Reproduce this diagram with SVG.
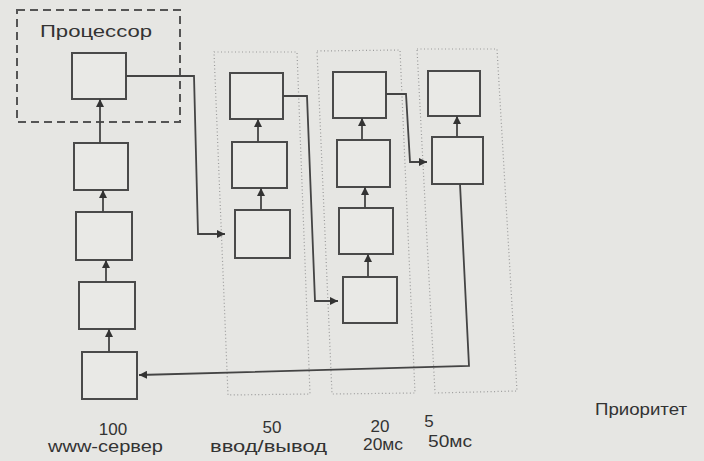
<svg xmlns="http://www.w3.org/2000/svg" width="704" height="461" viewBox="0 0 704 461">
<defs>
<marker id="ah" viewBox="0 0 10 10" refX="10" refY="5" markerWidth="8" markerHeight="8" markerUnits="userSpaceOnUse" orient="auto">
<path d="M0,0 L10,5 L0,10 Z" fill="#333"/>
</marker>
<style>
.bg{fill:#e6e6e3}
.box{fill:#e9e9e6;stroke:#4a4a4a;stroke-width:2}
.col{fill:none;stroke:#9a9a9a;stroke-width:1.2;stroke-dasharray:1 2.5}
.proc{fill:none;stroke:#555;stroke-width:2;stroke-dasharray:8 5}
.ar{fill:none;stroke:#444;stroke-width:1.8;marker-end:url(#ah)}
.t{font-family:"Liberation Sans",Arial,sans-serif;fill:#333;font-size:16px}
.n{font-size:17px}
</style>
</defs>
<rect class="bg" x="0" y="0" width="704" height="461"/>

<g id="columns">
<polygon class="col" points="214,52 297,52 310,394 228,395"/>
<polygon class="col" points="317,51 400,50 415,393 332,394"/>
<polygon class="col" points="417,49 497,49 517,391 435,393"/>
</g>

<g id="processor">
<rect class="proc" x="17" y="10" width="163" height="112"/>
<text class="t" x="40" y="37" textLength="112" lengthAdjust="spacingAndGlyphs">Процессор</text>
</g>

<g id="col1">
<g id="n1"><rect class="box" x="72" y="53" width="54" height="46"/></g>
<g id="n2"><rect class="box" x="74" y="143" width="54" height="47"/></g>
<g id="n3"><rect class="box" x="76" y="212" width="56" height="48"/></g>
<g id="n4"><rect class="box" x="79" y="282" width="56" height="47"/></g>
<g id="n5"><rect class="box" x="82" y="352" width="55" height="47"/></g>
</g>
<g id="col2">
<g id="n6"><rect class="box" x="230" y="73" width="53" height="46"/></g>
<g id="n7"><rect class="box" x="232" y="142" width="55" height="46"/></g>
<g id="n8"><rect class="box" x="235" y="210" width="55" height="48"/></g>
</g>
<g id="col3">
<g id="n9"><rect class="box" x="333" y="72" width="53" height="46"/></g>
<g id="n10"><rect class="box" x="337" y="140" width="53" height="47"/></g>
<g id="n11"><rect class="box" x="339" y="208" width="54" height="46"/></g>
<g id="n12"><rect class="box" x="343" y="277" width="54" height="46"/></g>
</g>
<g id="col4">
<g id="n13"><rect class="box" x="428" y="71" width="52" height="45"/></g>
<g id="n14"><rect class="box" x="432" y="137" width="51" height="47"/></g>
</g>

<g id="connectors">
<line class="ar" x1="100" y1="143" x2="100" y2="99"/>
<line class="ar" x1="103" y1="212" x2="103" y2="190"/>
<line class="ar" x1="106" y1="282" x2="106" y2="260"/>
<line class="ar" x1="109" y1="352" x2="109" y2="329"/>
<line class="ar" x1="258" y1="142" x2="258" y2="119"/>
<line class="ar" x1="261" y1="210" x2="261" y2="188"/>
<line class="ar" x1="362" y1="140" x2="362" y2="118"/>
<line class="ar" x1="365" y1="208" x2="365" y2="187"/>
<line class="ar" x1="368" y1="277" x2="368" y2="254"/>
<line class="ar" x1="457" y1="137" x2="457" y2="116"/>
<polyline class="ar" points="126,76 194,76 198,234 225,234"/>
<polyline class="ar" points="283,96 307,96 315,301 338,301"/>
<polyline class="ar" points="386,94 406,94 410,162 427,162"/>
<polyline class="ar" points="460,184 469,366 139,375"/>
</g>

<g id="labels">
<text class="t n" x="113" y="435" text-anchor="middle">100</text>
<text class="t" x="48" y="452" textLength="115" lengthAdjust="spacingAndGlyphs">www-сервер</text>
<text class="t n" x="272" y="433" text-anchor="middle">50</text>
<text class="t" x="210" y="452" textLength="117" lengthAdjust="spacingAndGlyphs">ввод/вывод</text>
<text class="t n" x="380" y="432" text-anchor="middle">20</text>
<text class="t" x="363" y="450" textLength="40" lengthAdjust="spacingAndGlyphs">20мс</text>
<text class="t n" x="429" y="427" text-anchor="middle">5</text>
<text class="t" x="428" y="447" textLength="44" lengthAdjust="spacingAndGlyphs">50мс</text>
<text class="t" x="595" y="415" textLength="92" lengthAdjust="spacingAndGlyphs">Приоритет</text>
</g>
</svg>
